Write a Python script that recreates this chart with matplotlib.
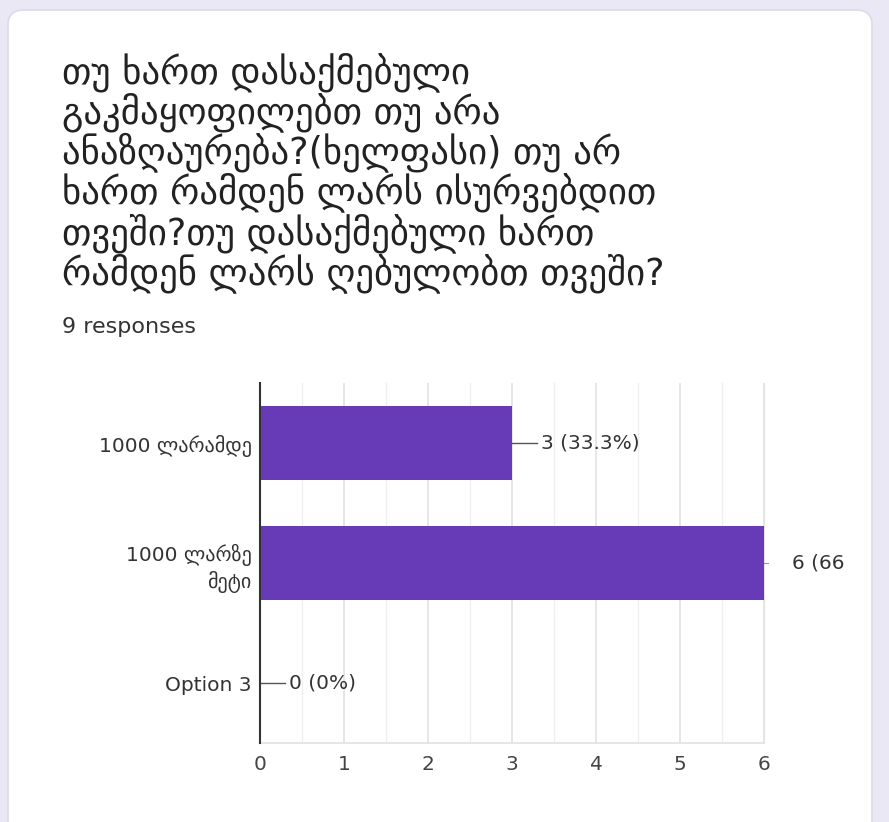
import matplotlib
matplotlib.use("Agg")
import matplotlib.pyplot as plt
from matplotlib.patches import FancyBboxPatch, Rectangle
from matplotlib.ticker import MultipleLocator

plt.rcParams['font.family'] = ['DejaVu Sans']

title_lines = [
    "თუ ხართ დასაქმებული",
    "გაკმაყოფილებთ თუ არა",
    "ანაზღაურება?(ხელფასი) თუ არ",
    "ხართ რამდენ ლარს ისურვებდით",
    "თვეში?თუ დასაქმებული ხართ",
    "რამდენ ლარს ღებულობთ თვეში?",
]
subtitle = "9 responses"
categories = ["1000 ლარამდე", "1000 ლარზე\nმეტი", "Option 3"]
counts = [3, 6, 0]
pct_labels = ["3 (33.3%)", "6 (66.7%)", "0 (0%)"]
x_ticks = [0, 1, 2, 3, 4, 5, 6]

W, H = 889, 822
fig = plt.figure(figsize=(W / 100, H / 100), dpi=100)
fig.patch.set_facecolor("#ebe8f6")

# white card behind everything
card = FancyBboxPatch((8 / W, -0.05), 864 / W, (H - 10) / H + 0.05,
                      boxstyle="round,pad=0,rounding_size=0.018",
                      transform=fig.transFigure, facecolor="white",
                      edgecolor="#dcdae3", linewidth=1.2, zorder=-5)
fig.patches.append(card)

# question title
for i, line in enumerate(title_lines):
    fig.text(62 / W, 1 - (72 + i * 40.2) / H, line, fontsize=26.5,
             color="#222222", va="center", ha="left")
fig.text(62 / W, 1 - 327 / H, subtitle, fontsize=16, color="#333333",
         va="center", ha="left")

ax = fig.add_axes([260 / W, 1 - 743 / H, 504 / W, 360 / H])
ax.set_facecolor("none")
y = list(range(len(categories)))
bar_color = "#673ab7"
ax.barh(y, counts, height=0.62, color=bar_color, zorder=3)

ax.set_xlim(0, 6)
ax.set_ylim(len(categories) - 0.5, -0.5)
ax.set_xticks(x_ticks)
ax.xaxis.set_minor_locator(MultipleLocator(0.5))
ax.grid(axis="x", which="major", color="#e2e2e2", linewidth=1.2, zorder=0)
ax.grid(axis="x", which="minor", color="#f0f0f0", linewidth=1.0, zorder=0)
ax.set_yticks(y)
ax.set_yticklabels(categories, fontsize=14.5, color="#333333", ha="right",
                   linespacing=1.3)
ax.tick_params(axis="y", length=0, pad=6)
ax.tick_params(axis="x", which="both", length=0, pad=9, labelsize=14.5,
               labelcolor="#444444")

ax.spines["top"].set_visible(False)
ax.spines["right"].set_color("#e2e2e2")
ax.spines["bottom"].set_color("#e2e2e2")
ax.spines["bottom"].set_linewidth(1.2)
ax.spines["left"].set_color("#333333")
ax.spines["left"].set_linewidth(1.5)
ax.spines["left"].set_zorder(5)

# value labels with leader lines; the long one is cut at the card's inner edge
clip = Rectangle((0, 0), 844 / W, 1, transform=fig.transFigure)
for yi, c, label in zip(y, counts, pct_labels):
    if c < max(counts):
        ax.plot([c, c + 0.3], [yi, yi], color="#555555", lw=1.0,
                zorder=4, clip_on=False)
        ax.text(c + 0.34, yi, label, va="center", ha="left", fontsize=14.5,
                color="#333333", clip_on=False)
    else:
        ax.plot([c, c + 0.05], [yi, yi], color="#999999", lw=0.8,
                zorder=4, clip_on=False)
        t = ax.text(c + 0.33, yi, label, va="center", ha="left", fontsize=14.5,
                    color="#333333")
        t.set_clip_path(clip)
        t.set_clip_on(True)

fig.savefig("out.png", dpi=100, facecolor=fig.get_facecolor())
